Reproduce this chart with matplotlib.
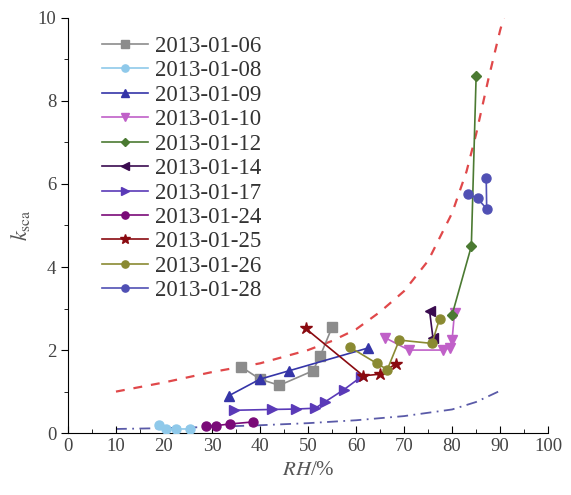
import matplotlib
matplotlib.use("Agg")
import matplotlib.pyplot as plt
from matplotlib.ticker import MultipleLocator

plt.rcParams["font.family"] = ["Liberation Serif", "DejaVu Serif"]
plt.rcParams["mathtext.fontset"] = "stix"

# measured series (RH %, k_sca)
x_0106 = [36, 40, 44, 51, 52.5, 55]
y_0106 = [1.6, 1.3, 1.15, 1.5, 1.85, 2.55]
x_0108 = [19, 20.5, 22.5, 25.5]
y_0108 = [0.2, 0.1, 0.1, 0.1]
x_0109 = [33.5, 40, 46, 62.5]
y_0109 = [0.9, 1.3, 1.5, 2.05]
x_0110 = [66, 71, 78, 79.5, 80, 80.5]
y_0110 = [2.3, 2.0, 2.0, 2.05, 2.25, 2.9]
x_0112 = [80, 84, 85]
y_0112 = [2.85, 4.5, 8.6]
x_0114 = [75.3, 76]
y_0114 = [2.95, 2.3]
x_0117 = [34.5, 42.5, 47.5, 51.5, 53.5, 57.5, 61]
y_0117 = [0.55, 0.57, 0.58, 0.6, 0.75, 1.05, 1.35]
x_0124 = [28.8, 30.8, 33.7, 38.6]
y_0124 = [0.18, 0.18, 0.22, 0.27]
x_0125 = [49.5, 61.5, 65, 68.3]
y_0125 = [2.52, 1.38, 1.42, 1.67]
x_0126 = [58.7, 64.3, 66.5, 69, 75.8, 77.4]
y_0126 = [2.07, 1.68, 1.53, 2.24, 2.16, 2.76]
x_0128 = [83.4, 85.3, 87.2, 87.1]
y_0128 = [5.75, 5.65, 5.4, 6.15]

# envelope curves
x_upper = [10, 20, 30, 40, 50, 55, 60, 65, 70, 75, 80, 83, 85, 87.5, 90, 91]
y_upper = [1.0, 1.22, 1.47, 1.68, 2.0, 2.22, 2.5, 2.92, 3.42, 4.15, 5.3, 6.3, 7.2, 8.5, 9.7, 10.1]
x_lower = [10, 20, 30, 40, 50, 60, 70, 80, 85, 90]
y_lower = [0.1, 0.12, 0.15, 0.19, 0.24, 0.31, 0.41, 0.57, 0.75, 1.02]

fig = plt.figure(figsize=(5.71, 4.95), dpi=100)
ax = fig.add_axes([0.119, 0.125, 0.841, 0.839])

ax.plot(x_upper, y_upper, color="#e0484a", ls=(0, (4, 4)), lw=1.6, zorder=1)
ax.plot(x_lower, y_lower, color="#5a5aa8", ls=(0, (6, 3, 1, 3)), lw=1.3, zorder=1)

series = [
    (x_0106, y_0106, "2013-01-06", "#8c8c8c", "s"),
    (x_0108, y_0108, "2013-01-08", "#8fc9ea", "o"),
    (x_0109, y_0109, "2013-01-09", "#3535a8", "^"),
    (x_0110, y_0110, "2013-01-10", "#c060c8", "v"),
    (x_0112, y_0112, "2013-01-12", "#4b7a32", "D"),
    (x_0114, y_0114, "2013-01-14", "#3a0b4f", "<"),
    (x_0117, y_0117, "2013-01-17", "#5a3ab8", ">"),
    (x_0124, y_0124, "2013-01-24", "#7a0a78", "o"),
    (x_0125, y_0125, "2013-01-25", "#8a0a10", "*"),
    (x_0126, y_0126, "2013-01-26", "#8a8a32", "o"),
    (x_0128, y_0128, "2013-01-28", "#5050b4", "o"),
]
for xs, ys, lab, c, m in series:
    ms = 9 if m == "*" else 6.5
    if m == "D":
        ms = 5.5
    ax.plot(xs, ys, color=c, marker=m, ms=ms, lw=1.2, label=lab,
            markeredgecolor=c, zorder=3)

ax.set_xlim(0, 100)
ax.set_ylim(0, 10)
ax.xaxis.set_major_locator(MultipleLocator(10))
ax.xaxis.set_minor_locator(MultipleLocator(5))
ax.yaxis.set_major_locator(MultipleLocator(2))
ax.yaxis.set_minor_locator(MultipleLocator(1))
ax.tick_params(axis="x", which="both", direction="in", labelsize=13.5, labelcolor="#444444")
ax.tick_params(axis="y", which="both", direction="out", labelsize=13.5, labelcolor="#444444")
ax.tick_params(which="major", length=5)
ax.tick_params(which="minor", length=3)
ax.spines["top"].set_visible(False)
ax.spines["right"].set_visible(False)

ax.set_xlabel(r"$RH$/%", fontsize=15, labelpad=4, color="#555555")
ax.set_ylabel(r"$k_{\rm sca}$", fontsize=16, labelpad=4, color="#555555")

leg = ax.legend(loc="upper left", bbox_to_anchor=(0.04, 0.993), frameon=False,
                fontsize=16.5, handlelength=2.0, labelspacing=0.15, handletextpad=0.3,
                borderpad=0.15, markerscale=0.8)
for t in leg.get_texts():
    t.set_color("#333333")

fig.savefig("out.png", dpi=100)
